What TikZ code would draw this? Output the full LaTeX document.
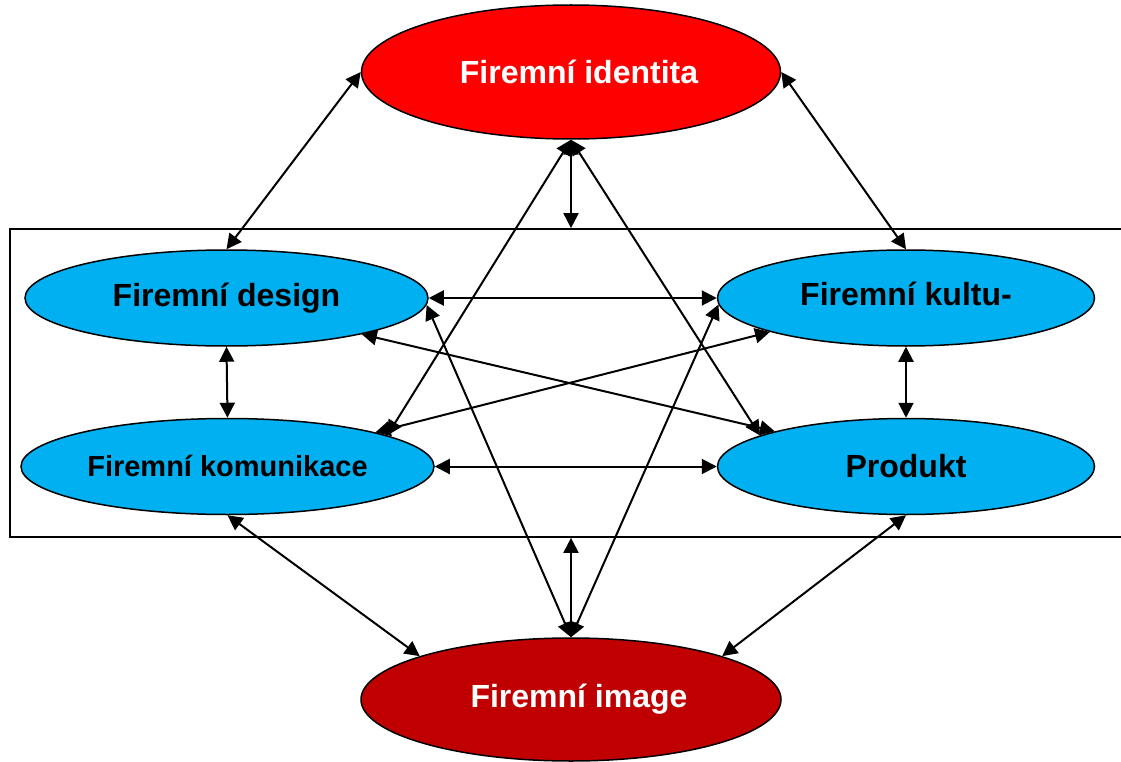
\documentclass[tikz,border=0pt]{standalone}
\usepackage{fontspec}
\setmainfont{Liberation Sans}
\usetikzlibrary{shapes.geometric,arrows.meta}
\pgfdeclarelayer{edgelayer}
\pgfdeclarelayer{nodelayer}
\pgfsetlayers{edgelayer,nodelayer,main}
\definecolor{cyanfill}{HTML}{00B0F0}
\definecolor{redfill}{HTML}{FF0000}
\definecolor{darkredfill}{HTML}{C00000}
\tikzset{font=\fontsize{32}{38}\selectfont\bfseries}
\tikzstyle{none}=[inner sep=0pt]
\tikzstyle{oval}=[ellipse,draw=black,line width=1.5pt,inner sep=0pt]
\tikzstyle{blue oval}=[oval,fill=cyanfill,minimum width=403pt,minimum height=96pt]
\tikzstyle{red oval}=[oval,fill=redfill,text=white,minimum width=419pt,minimum height=134pt]
\tikzstyle{dark oval}=[oval,fill=darkredfill,text=white,minimum width=420pt,minimum height=123pt]
\tikzstyle{frame}=[draw=black,line width=1.7pt,inner sep=0pt]
\tikzstyle{link}=[line width=2pt,>={Triangle[length=15pt,width=15pt]},<->]

\begin{document}
\begin{tikzpicture}[x=1pt,y=-1pt]
	\useasboundingbox (0,0) rectangle (1121,762);
	\begin{pgfonlayer}{nodelayer}
		\node [style=red oval] (0) at (571, 72) {\hspace*{16pt}Firemní identita};
		\node [style=blue oval] (1) at (226.5, 298) {Firemní design};
		\node [style=blue oval, minimum width=377pt, text depth=8pt] (2) at (906, 298) {Firemní kultu-};
		\node [style=blue oval, minimum width=413pt, font=\fontsize{29}{34}\selectfont\bfseries] (3) at (227.5, 466.5) {Firemní komunikace};
		\node [style=blue oval, minimum width=377pt] (4) at (906, 466.5) {Produkt};
		\node [style=dark oval] (5) at (571, 699.5) {\hspace*{16pt}Firemní image};
		\node [style=frame, minimum width=1125pt, minimum height=308pt] (6) at (572.5, 383) {};
	\end{pgfonlayer}
	\begin{pgfonlayer}{edgelayer}
		\draw [style=link] (0.west) to (1.north);
		\draw [style=link] (0.east) to (2.north);
		\draw [style=link] (0.south) to (0.south |- 6.north);
		\draw [style=link] (0.south) to (3.11);
		\draw [style=link] (0.south) to (4.168);
		\draw [style=link] (1.east) to (2.west);
		\draw [style=link] (1.-15) to (4.165);
		\draw [style=link] (1.-2) to (5.north);
		\draw [style=link] (2.194) to (3.13);
		\draw [style=link] (2.182) to (5.north);
		\draw [style=link] (1.south) to (3.north);
		\draw [style=link] (2.south) to (4.north);
		\draw [style=link] (3.east) to (4.west);
		\draw [style=link] (3.south) to (5.164);
		\draw [style=link] (4.south) to (5.16);
		\draw [style=link] (5.north) to (5.north |- 6.south);
	\end{pgfonlayer}
\end{tikzpicture}
\end{document}
